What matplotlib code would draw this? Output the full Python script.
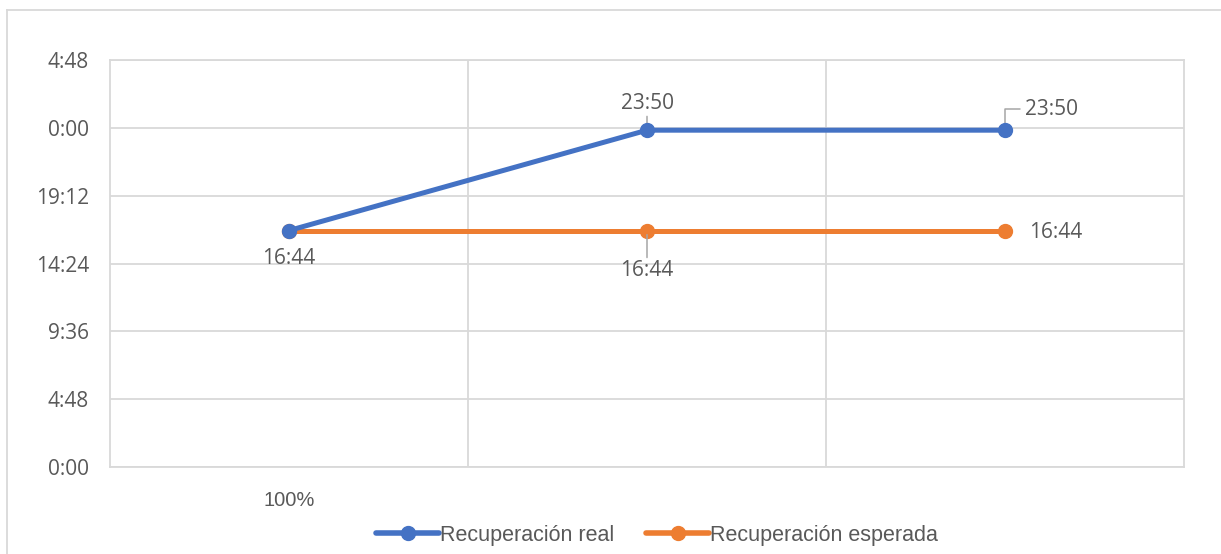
import matplotlib
matplotlib.use("Agg")
import matplotlib.pyplot as plt
from matplotlib.ticker import FuncFormatter, FixedLocator
from matplotlib.lines import Line2D

# ---- data (fractions of a day, Excel style) ----
categories = ["100%", "", ""]
real_hours = ["16:44", "23:50", "23:50"]
expected_hours = ["16:44", "16:44", "16:44"]
series_names = ["Recuperación real", "Recuperación esperada"]
y_ticks = [0.0, 0.2, 0.4, 0.6, 0.8, 1.0, 1.2]


def to_day(s):
    h, m = s.split(":")
    return (int(h) * 60 + int(m)) / 1440.0


real = [to_day(s) for s in real_hours]
expected = [to_day(s) for s in expected_hours]


def fmt_time(v, pos=None):
    mins = int(round(v * 1440)) % 1440
    return f"{mins // 60}:{mins % 60:02d}"


BLUE = "#4472C4"
ORANGE = "#ED7D31"
GRID = "#D9D9D9"
TXT = "#595959"
LEAD = "#A6A6A6"

fig = plt.figure(figsize=(12.21, 5.54), dpi=100)
ax = fig.add_axes([110 / 1221, 1 - 467 / 554, (1184 - 110) / 1221, (467 - 60) / 554])

x = list(range(len(categories)))
ax.plot(x, real, color=BLUE, lw=3.6, marker="o", ms=10, solid_capstyle="round",
        label=series_names[0], zorder=4)
ax.plot(x, expected, color=ORANGE, lw=3.6, marker="o", ms=10, solid_capstyle="round",
        label=series_names[1], zorder=3)

ax.set_xlim(-0.5, len(categories) - 0.5)
ax.set_ylim(y_ticks[0], y_ticks[-1])
ax.yaxis.set_major_locator(FixedLocator(y_ticks))
ax.yaxis.set_major_formatter(FuncFormatter(fmt_time))
ax.set_xticks(x)
ax.set_xticklabels(categories)
ax.set_xticks([i + 0.5 for i in x[:-1]], minor=True)

ax.grid(axis="y", which="major", color=GRID, lw=1.3)
ax.grid(axis="x", which="minor", color=GRID, lw=1.3)
ax.set_axisbelow(True)
for sp in ax.spines.values():
    sp.set_color(GRID)
    sp.set_linewidth(1.3)

ax.tick_params(axis="both", which="both", length=0)
ax.tick_params(axis="y", pad=15, labelcolor=TXT)
ax.tick_params(axis="x", pad=17, labelcolor=TXT)
for lab in ax.get_yticklabels():
    lab.set_fontfamily("Open Sans")
    lab.set_fontsize(15)
for lab in ax.get_xticklabels():
    lab.set_fontfamily("Liberation Sans")
    lab.set_fontsize(14.5)

lab_kw = dict(textcoords="offset points", fontsize=15, family="Open Sans", color=TXT)

# orange labels
ax.annotate(expected_hours[0], (0, expected[0]), xytext=(0, -20.5), ha="center", va="center", **lab_kw)
ax.annotate(expected_hours[1], (1, expected[1]), xytext=(0, -29), ha="center", va="center",
            arrowprops=dict(arrowstyle="-", color=LEAD, lw=1.1, shrinkA=0, shrinkB=3, relpos=(0.5, 1)),
            **lab_kw)
ax.annotate(expected_hours[2], (2, expected[2]), xytext=(17, -1.5), ha="left", va="center", **lab_kw)

# blue labels
ax.annotate(real_hours[1], (1, real[1]), xytext=(0, 19.5), ha="center", va="center",
            arrowprops=dict(arrowstyle="-", color=LEAD, lw=1.1, shrinkA=0, shrinkB=2, relpos=(0.5, 0)),
            **lab_kw)
ax.annotate(real_hours[2], (2, real[2]), xytext=(14.5, 15), ha="left", va="center",
            arrowprops=dict(arrowstyle="-", color=LEAD, lw=1.1, shrinkA=2, shrinkB=0, relpos=(0, 0.5),
                            connectionstyle="angle,angleA=0,angleB=90,rad=0"),
            **lab_kw)

leg = fig.legend(loc="center", bbox_to_anchor=(657 / 1221, 1 - 535 / 554), ncol=2, frameon=False,
                 prop={"family": "Liberation Sans", "size": 15.5}, handlelength=2.9,
                 handletextpad=0.05, columnspacing=1.5, labelcolor=TXT)
for h in leg.legend_handles:
    h.set_linewidth(4)
    h.set_solid_capstyle("round")

# outer chart-area border (cropped)
fig.add_artist(Line2D([7 / 1221, 1], [1 - 10 / 554] * 2, transform=fig.transFigure, color=GRID, lw=1.3))
fig.add_artist(Line2D([7 / 1221] * 2, [0, 1 - 10 / 554], transform=fig.transFigure, color=GRID, lw=1.3))

fig.savefig("out.png", dpi=100)
